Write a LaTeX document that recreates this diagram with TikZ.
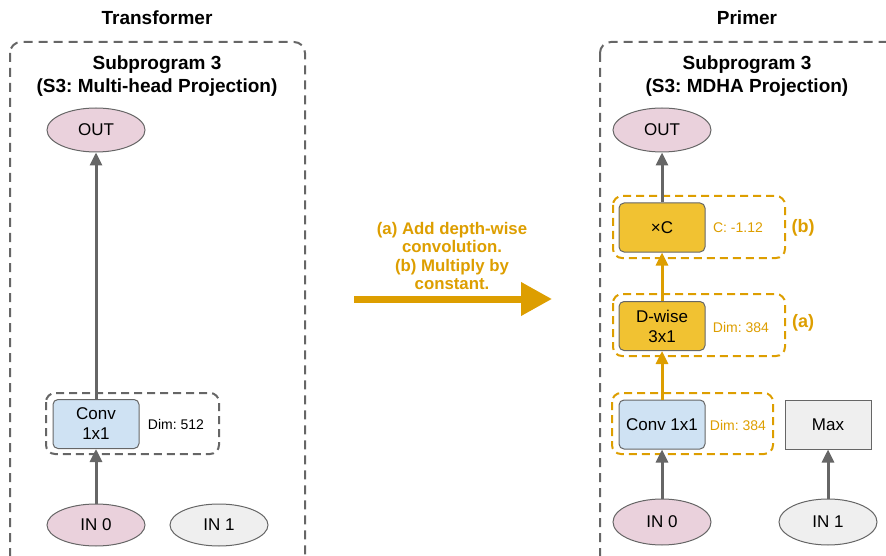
\documentclass[tikz,border=0pt]{standalone}
\usepackage{fontspec}
\setmainfont{Liberation Sans}
\usetikzlibrary{arrows.meta,shapes.geometric}
\frenchspacing
\definecolor{gold}{RGB}{221,158,0}
\definecolor{edge}{RGB}{102,102,102}
\definecolor{pinkfill}{HTML}{EAD1DC}
\definecolor{bluefill}{HTML}{CFE2F3}
\definecolor{yellowfill}{HTML}{F1C232}
\definecolor{grayfill}{HTML}{EFEFEF}
\tikzset{
  title/.style={font=\bfseries\fontsize{19}{21}\selectfont, align=center},
  ell/.style={ellipse, draw=edge, line width=1pt, minimum width=98pt, minimum height=44pt, inner sep=0pt, font=\fontsize{17}{19}\selectfont},
  opbox/.style={rectangle, rounded corners=5pt, draw=edge, line width=1pt, minimum width=86pt, minimum height=49pt, inner sep=0pt, align=center, font=\fontsize{17}{20}\selectfont},
  grp/.style={draw=edge, dashed, dash pattern=on 8pt off 5pt, line width=2pt, rounded corners=9pt},
  ggrp/.style={draw=gold, dash pattern=on 8pt off 5pt, line width=2pt, rounded corners=9pt},
  outer/.style={draw=edge, dash pattern=on 9pt off 6pt, line width=2pt, rounded corners=11pt},
  note/.style={font=\fontsize{14}{16}\selectfont, inner sep=0pt},
  gnote/.style={note, text=gold},
  glabel/.style={font=\bfseries\fontsize{18}{20}\selectfont, text=gold, inner sep=0pt},
  garr/.style={draw=edge, line width=3pt, -{Triangle[length=13pt,width=12pt]}},
  yarr/.style={draw=gold, line width=3pt, -{Triangle[length=13pt,width=12pt]}},
}
\begin{document}
\begin{tikzpicture}[x=1pt,y=-1pt]
\useasboundingbox (0,0) rectangle (886,556);
\begin{scope}
\clip (0,0) rectangle (886,556);
% outer boxes
\draw[outer] (10,42) rectangle (305,566);
\draw[outer] (600,42) rectangle (900,566);
\end{scope}

% titles
\node[title] (tT) at (157,18) {Transformer};
\node[title] (tP) at (747,18) {Primer};
\node[title, font=\bfseries\fontsize{19}{23}\selectfont] (sL) at (157,76) {Subprogram 3\\(S3: Multi-head Projection)};
\node[title, font=\bfseries\fontsize{19}{23}\selectfont] (sR) at (747,76) {Subprogram 3\\(S3: MDHA Projection)};

% ---- left (Transformer) ----
\draw[grp] (46,393) rectangle (219,454);
\node[ell, fill=pinkfill] (outL) at (96,130) {OUT};
\node[opbox, fill=bluefill] (convL) at (96,424) {Conv\\1x1};
\node[note] (dimL) at (176,424) {Dim: 512};
\node[ell, fill=pinkfill, minimum height=42pt] (in0L) at (96,525) {IN 0};
\node[ell, fill=grayfill, minimum height=42pt] (in1L) at (219,525) {IN 1};
\draw[garr] (convL) -- (outL);
\draw[garr] (in0L) -- (convL);

% ---- big arrow ----
\node[font=\bfseries\fontsize{16.8}{18.5}\selectfont, text=gold, align=center] (txt) at (452,256) {(a) Add depth-wise\\convolution.\\(b) Multiply by\\constant.};
\coordinate (a0) at (354,299);
\coordinate (a1) at (552,299);
\draw[draw=gold, line width=7pt, -{Triangle[length=31pt,width=32pt]}] (a0) -- (a1);

% ---- right (Primer) ----
\draw[ggrp] (613,196) rectangle (785,258);
\draw[ggrp] (613,294) rectangle (785,356);
\draw[ggrp] (612,393) rectangle (773,454);
\node[ell, fill=pinkfill] (outR) at (662,130) {OUT};
\node[opbox, fill=yellowfill] (mulC) at (662,227.5) {×C};
\node[gnote] (cval) at (738,228) {C: -1.12};
\node[glabel] (lb) at (803,228) {(b)};
\node[opbox, fill=yellowfill] (dw) at (662,326) {D-wise\\3x1};
\node[gnote] (dimA) at (741,327) {Dim: 384};
\node[glabel] (la) at (803,323) {(a)};
\node[opbox, fill=bluefill] (convR) at (662,424.5) {Conv 1x1};
\node[gnote] (dimR) at (738,425) {Dim: 384};
\node[opbox, rounded corners=0pt, fill=grayfill] (maxR) at (828,424.5) {Max};
\node[ell, fill=pinkfill, minimum height=46pt] (in0R) at (662,522) {IN 0};
\node[ell, fill=grayfill, minimum height=46pt] (in1R) at (828,522) {IN 1};
\draw[garr] (mulC) -- (outR);
\draw[yarr] (dw) -- (mulC);
\draw[yarr] (convR) -- (dw);
\draw[garr] (in0R) -- (convR);
\draw[garr] (in1R) -- (maxR);
\end{tikzpicture}
\end{document}
